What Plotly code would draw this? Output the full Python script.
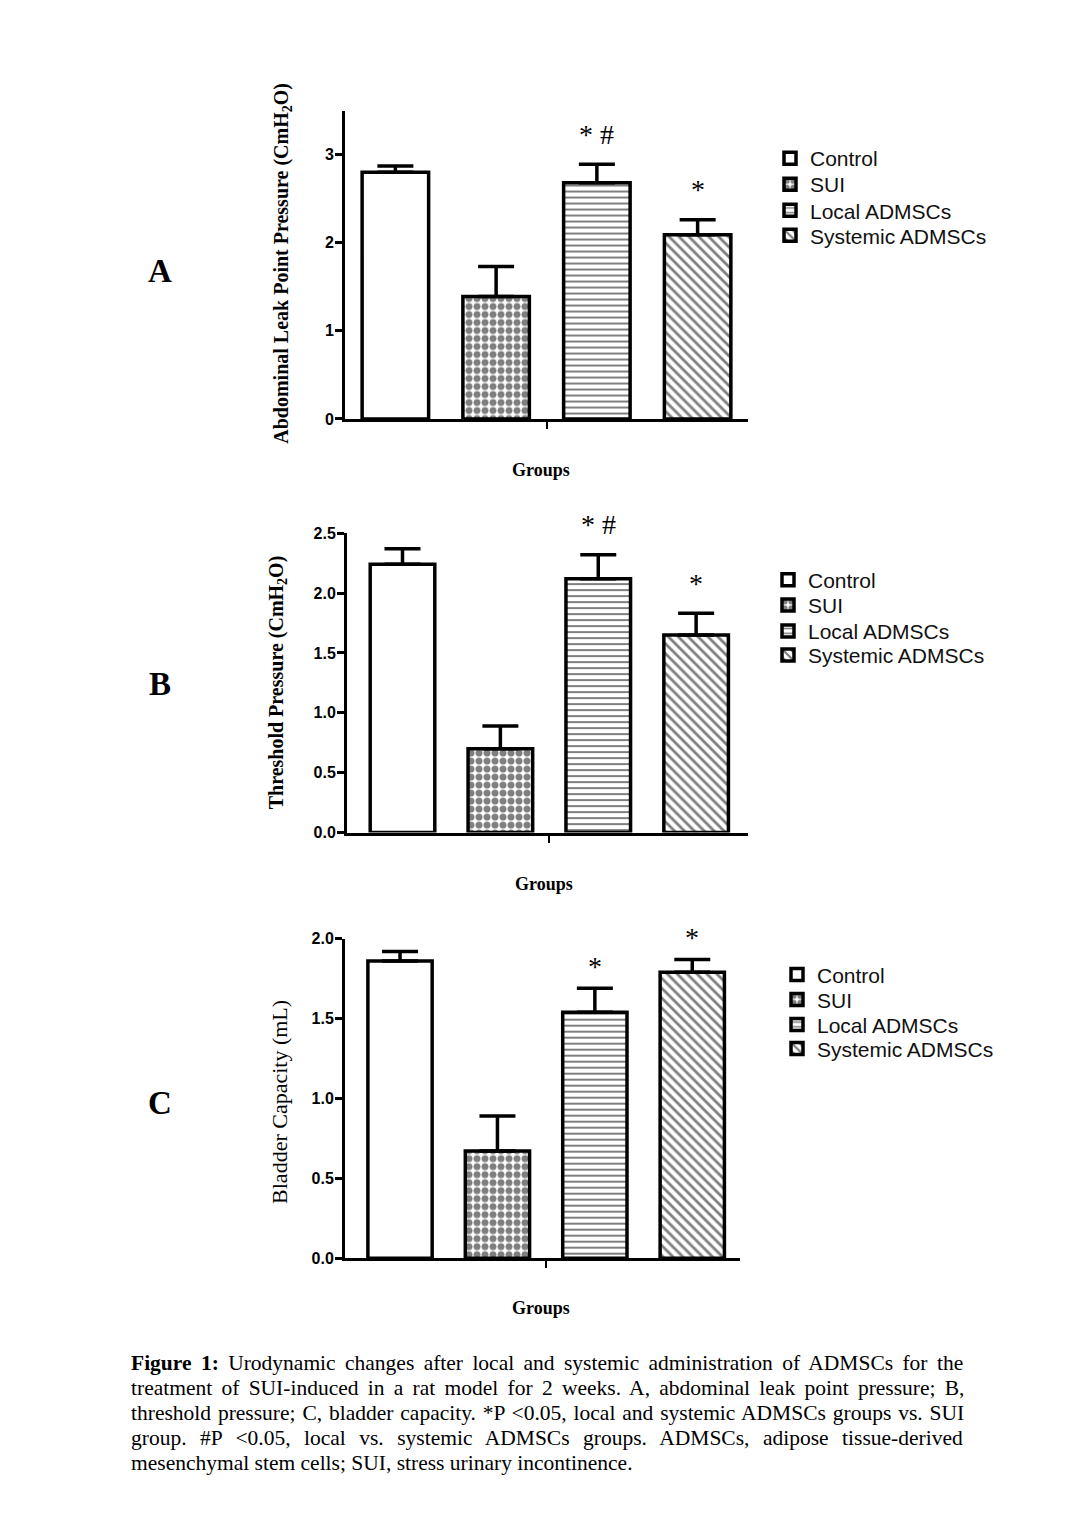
import plotly.graph_objects as go

# ---------------- data ----------------
groups = ["Control", "SUI", "Local ADMSCs", "Systemic ADMSCs"]

alpp_mean = [2.80, 1.39, 2.68, 2.09]
alpp_sem = [0.07, 0.34, 0.21, 0.17]
alpp_marks = ["", "", "* #", "*"]

tp_mean = [2.24, 0.70, 2.12, 1.65]
tp_sem = [0.13, 0.19, 0.20, 0.18]
tp_marks = ["", "", "* #", "*"]

bc_mean = [1.86, 0.67, 1.54, 1.79]
bc_sem = [0.06, 0.22, 0.15, 0.08]
bc_marks = ["", "", "*", "*"]

alpp_ticks = [0, 1, 2, 3]
tp_ticks = [0.0, 0.5, 1.0, 1.5, 2.0, 2.5]
bc_ticks = [0.0, 0.5, 1.0, 1.5, 2.0]

caption_lines = [
    "<b>Figure 1:</b> Urodynamic changes after local and systemic administration of ADMSCs for the",
    "treatment of SUI-induced in a rat model for 2 weeks. A, abdominal leak point pressure; B,",
    "threshold pressure; C, bladder capacity. *P &lt;0.05, local and systemic ADMSCs groups vs. SUI",
    "group. #P &lt;0.05, local vs. systemic ADMSCs groups. ADMSCs, adipose tissue-derived",
    "mesenchymal stem cells; SUI, stress urinary incontinence.",
]
caption_word_spacing = [4.0, 3.9, 1.5, 8.1, 0]   # emulates the justified caption

# ---------------- styling ----------------
W, H = 1080, 1527
SERIF = "Liberation Serif"
SANS = "Liberation Sans"

# vertical calibration of the photographed page (measured: y_shown = 9.6 + 0.9875 * y_layout)
V_OFF, V_SCALE = 9.6, 0.9875

patterns = [
    dict(shape="", fgcolor="black", bgcolor="white"),
    dict(shape=".", fgcolor="black", bgcolor="white", size=8, solidity=0.6),
    dict(shape="-", fgcolor="black", bgcolor="white", size=6, solidity=0.33),
    dict(shape="\\", fgcolor="black", bgcolor="white", size=7, solidity=0.4),
]

def px_x(v):
    return v / W

def px_y(v):
    return 1 - ((v - V_OFF) / V_SCALE) / H

panels = [
    dict(mean=alpp_mean, sem=alpp_sem, marks=alpp_marks, ticks=alpp_ticks, fmt="d",
         yrange=[0, 3.5], xrange=[-0.5, 3.5], mshift=30,
         xdom=[345, 748], ydom=[112, 420],
         title="Abdominal Leak Point Pressure (CmH<sub>2</sub>O)", tbold=True, tsize=20, tpos=(283, 265),
         letter="A", lpos=(160, 272), gpos=(541, 471),
         legx=770, legy=[160, 186, 212, 237]),
    dict(mean=tp_mean, sem=tp_sem, marks=tp_marks, ticks=tp_ticks, fmt=".1f",
         yrange=[0, 2.5], xrange=[-0.567, 3.53], mshift=30,
         xdom=[347, 748], ydom=[534, 833],
         title="Threshold Pressure (CmH<sub>2</sub>O)", tbold=True, tsize=20, tpos=(277, 683),
         letter="B", lpos=(160, 685), gpos=(544, 884),
         legx=768, legy=[581, 606, 632, 656]),
    dict(mean=bc_mean, sem=bc_sem, marks=bc_marks, ticks=bc_ticks, fmt=".1f",
         yrange=[0, 2.0], xrange=[-0.565, 3.49], mshift=22,
         xdom=[345, 740], ydom=[939, 1258],
         title="Bladder Capacity (mL)", tbold=False, tsize=22, tpos=(280, 1102),
         letter="C", lpos=(160, 1103), gpos=(541, 1308),
         legx=777, legy=[975, 1000, 1025, 1049]),
]

fig = go.Figure()
annotations = []
layout_extra = {}

for k, p in enumerate(panels):
    sfx = "" if k == 0 else str(k + 1)
    xs, ys = "x" + sfx, "y" + sfx
    for i, g in enumerate(groups):
        n = k * len(groups) + i + 1
        lg = "legend" if n == 1 else "legend%d" % n
        fig.add_trace(go.Bar(
            x=[i], y=[p["mean"][i]], width=0.66, name=g,
            xaxis=xs, yaxis=ys, legend=lg, showlegend=True,
            marker=dict(color="white", line=dict(color="black", width=3.5),
                        pattern=patterns[i]),
            error_y=dict(type="data", symmetric=False, array=[p["sem"][i]], arrayminus=[0],
                         color="black", thickness=3.5, width=18),
            hoverinfo="skip",
        ))
        layout_extra[lg] = dict(
            x=px_x(p["legx"]), y=px_y(p["legy"][i]), xanchor="left", yanchor="middle",
            bgcolor="rgba(0,0,0,0)", borderwidth=0,
            font=dict(family=SANS, size=21, color="#111111"))
        if p["marks"][i]:
            annotations.append(dict(
                x=i, y=p["mean"][i] + p["sem"][i], xref=xs, yref=ys,
                text=p["marks"][i], showarrow=False, yanchor="middle", yshift=p["mshift"],
                font=dict(family=SERIF, size=28, color="black")))

    layout_extra["xaxis" + sfx] = dict(
        domain=[px_x(p["xdom"][0]), px_x(p["xdom"][1])], anchor=ys,
        range=p["xrange"], showline=True, linewidth=3, linecolor="black",
        showgrid=False, zeroline=False, ticks="outside", ticklen=7, tickwidth=2,
        tickcolor="black", tickmode="array", tickvals=[(len(groups) - 1) / 2],
        showticklabels=False, fixedrange=True)
    layout_extra["yaxis" + sfx] = dict(
        domain=[px_y(p["ydom"][1]), px_y(p["ydom"][0])], anchor=xs,
        range=p["yrange"], showline=True, linewidth=3, linecolor="black",
        showgrid=False, zeroline=False, ticks="outside", ticklen=7, tickwidth=2.5,
        tickcolor="black", tickmode="array", tickvals=p["ticks"],
        tickformat=p["fmt"], ticklabelstandoff=-2,
        tickfont=dict(family=SANS, size=16, color="black", weight="bold"),
        fixedrange=True)

    annotations.append(dict(
        x=px_x(p["tpos"][0]), y=px_y(p["tpos"][1]), xref="paper", yref="paper",
        text=("<b>%s</b>" % p["title"]) if p["tbold"] else p["title"],
        textangle=-90, showarrow=False, xanchor="center", yanchor="middle",
        font=dict(family=SERIF, size=p["tsize"], color="black")))
    annotations.append(dict(
        x=px_x(p["gpos"][0]), y=px_y(p["gpos"][1]), xref="paper", yref="paper",
        text="<b>Groups</b>", showarrow=False, xanchor="center", yanchor="middle",
        font=dict(family=SERIF, size=18, color="black")))
    annotations.append(dict(
        x=px_x(p["lpos"][0]), y=px_y(p["lpos"][1]), xref="paper", yref="paper",
        text="<b>%s</b>" % p["letter"], showarrow=False, xanchor="center", yanchor="middle",
        font=dict(family=SERIF, size=33, color="black")))

for j, line in enumerate(caption_lines):
    txt = line
    if caption_word_spacing[j]:
        txt = '<span style="word-spacing:%.1fpx">%s</span>' % (caption_word_spacing[j], line)
    annotations.append(dict(
        x=px_x(129), y=px_y(1363 + 25 * j), xref="paper", yref="paper", text=txt,
        showarrow=False, xanchor="left", yanchor="middle", align="left",
        font=dict(family=SERIF, size=21.5, color="black")))

fig.update_layout(
    width=W, height=H, autosize=False,
    margin=dict(l=0, r=0, t=0, b=0),
    paper_bgcolor="white", plot_bgcolor="white",
    barmode="overlay", annotations=annotations,
    **layout_extra,
)

post = (
    "document.documentElement.style.margin='0';"
    "document.documentElement.style.overflow='hidden';"
    "document.body.style.margin='0';"
    "document.body.style.overflow='hidden';"
    "document.body.style.height='%dpx';"
    "var d=document.querySelector('.plotly-graph-div');"
    "d.style.position='absolute';d.style.left='0px';d.style.top='0px';" % H
)
fig.write_html("out.html", config={"displayModeBar": False}, post_script=post)
